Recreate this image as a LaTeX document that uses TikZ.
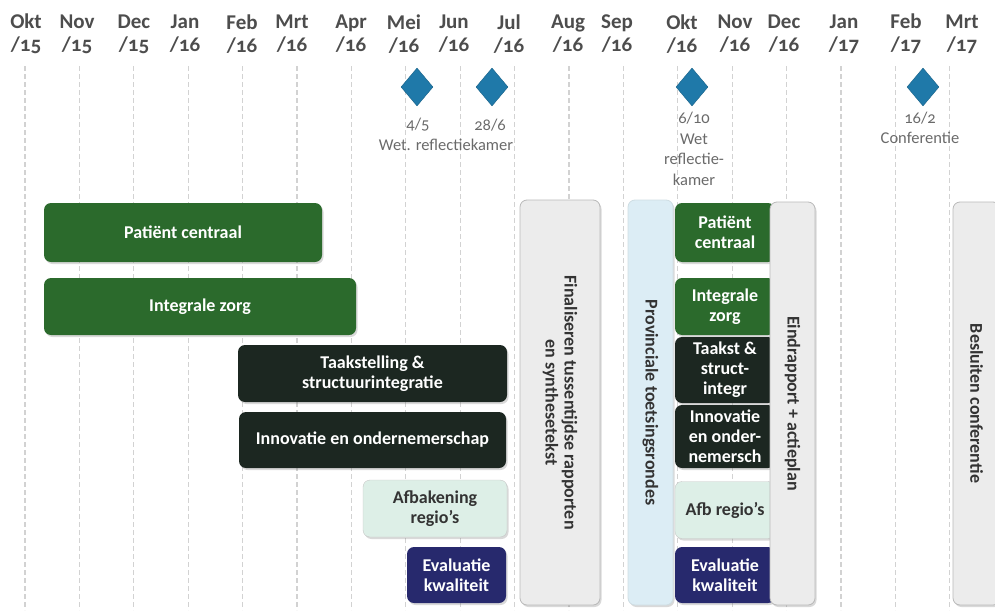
\documentclass[tikz,border=0pt]{standalone}
\usepackage{fontspec}
\setmainfont{Carlito}[Numbers=OldStyle]
\usetikzlibrary{shapes.geometric,shadows}

\definecolor{zorggreen}{HTML}{2B6A2C}
\definecolor{darkbox}{HTML}{1C2721}
\definecolor{navybox}{HTML}{27296D}
\definecolor{palebox}{HTML}{DDEFE7}
\definecolor{provblue}{HTML}{DCEDF5}
\definecolor{graybox}{HTML}{ECECEC}
\definecolor{milestone}{HTML}{1F79A9}
\definecolor{headgray}{HTML}{4D4D4D}
\definecolor{mutedgray}{HTML}{6A6A6A}

\tikzset{
  grid/.style={gray!35, line width=1.3pt, dash pattern=on 5pt off 3pt},
  month/.style={align=center, text=headgray, font=\fontsize{21}{23}\selectfont\bfseries},
  mijlpaal/.style={diamond, fill=milestone, draw=milestone!80!black, inner sep=0pt,
    minimum width=32pt, minimum height=38pt},
  mijltekst/.style={align=center, text=mutedgray, font=\fontsize{16.5}{20.5}\selectfont},
  task/.style={rounded corners=7pt, inner sep=2pt, align=center,
    font=\fontsize{18}{20}\selectfont\bfseries,
    drop shadow={shadow xshift=1.5pt, shadow yshift=-2pt, opacity=0.3}},
  groen/.style={task, fill=zorggreen, text=white},
  donker/.style={task, fill=darkbox, text=white},
  navy/.style={task, fill=navybox, text=white},
  bleek/.style={task, fill=palebox, draw=gray!45, text=black!80},
  fase/.style={task, rotate=-90, fill=graybox, draw=gray!55, line width=0.8pt, text=black!80,
    font=\fontsize{18}{19}\selectfont\bfseries},
}

\begin{document}
\begin{tikzpicture}[x=1pt, y=-1pt]
  \useasboundingbox (0,0) rectangle (995,610);
  % Month grid
  \foreach \i in {0,...,17}
    \draw[grid] ({25+54.4*\i},66) -- ({25+54.4*\i},610);
  % Month labels
  \foreach \x/\m/\j [count=\i] in {26/Okt/15, 77/Nov/15, 134/Dec/15, 185/Jan/16,
      242/Feb/16, 292/Mrt/16, 351/Apr/16, 404/Mei/16, 454/Jun/16, 509/Jul/16,
      568/Aug/16, 617/Sep/16, 682/Okt/16, 735/Nov/16, 784/Dec/16, 844/Jan/17,
      906/Feb/17, 962/Mrt/17}
    \node[month] (m\i) at (\x,34) {\m\\/\j};
  % Milestones
  \node[mijlpaal] (d1) at (417,87) {};
  \node[mijlpaal] (d2) at (492,87) {};
  \node[mijlpaal] (d3) at (692,87) {};
  \node[mijlpaal] (d4) at (923,87) {};
  \node[mijltekst] (t1) at (418,125) {4/5};
  \node[mijltekst] (t2) at (490,125) {28/6};
  \node[mijltekst] (t12) at (446,145) {Wet. reflectiekamer};
  \node[mijltekst] (t3) at (694,149) {6/10\\Wet\\reflectie-\\kamer};
  \node[mijltekst] (t4) at (920,128) {16/2\\Conferentie};
  % Themes, first round
  \node[groen, minimum width=278pt, minimum height=59pt] (pc1) at (183,232.5) {Patiënt centraal};
  \node[groen, minimum width=312pt, minimum height=57pt] (iz1) at (200,306.5) {Integrale zorg};
  \node[donker, minimum width=269pt, minimum height=57pt] (ts1) at (372.5,373.5) {Taakstelling \&\\structuurintegratie};
  \node[donker, minimum width=267pt, minimum height=56pt] (io1) at (372.5,440) {Innovatie en ondernemerschap};
  \node[bleek, minimum width=144pt, minimum height=57pt] (ab1) at (435,508.5) {Afbakening\\regio's};
  \node[navy, minimum width=99pt, minimum height=56pt] (ek1) at (456.5,575) {Evaluatie\\kwaliteit};
  % Phases
  \node[fase, minimum width=405pt, minimum height=80pt] (fin) at (560,402.5)
    {Finaliseren tussentijdse rapporten\\en synthesetekst};
  \node[fase, fill=provblue, draw=provblue!85!gray, minimum width=405pt, minimum height=45pt] (prov)
    at (650.5,402.5) {Provinciale toetsingsrondes};
  % Themes, second round
  \node[groen, minimum width=100pt, minimum height=59pt] (pc2) at (725,232.5) {Patiënt\\centraal};
  \node[groen, minimum width=100pt, minimum height=57pt] (iz2) at (725,306.5) {Integrale\\zorg};
  \node[donker, minimum width=100pt, minimum height=66pt] (ts2) at (725,370) {Taakst \&\\struct-\\integr};
  \node[donker, minimum width=100pt, minimum height=63pt] (io2) at (725,436.5) {Innovatie\\en onder-\\nemersch};
  \node[bleek, minimum width=100pt, minimum height=57pt] (ab2) at (725,510) {Afb regio's};
  \node[navy, minimum width=100pt, minimum height=56pt] (ek2) at (725,575) {Evaluatie\\kwaliteit};
  % Closing phases
  \node[fase, minimum width=403pt, minimum height=45pt] (eind) at (792.5,403.5) {Eindrapport + actieplan};
  \node[fase, minimum width=403pt, minimum height=47pt] (besl) at (976.5,403.5) {Besluiten conferentie};
\end{tikzpicture}
\end{document}
